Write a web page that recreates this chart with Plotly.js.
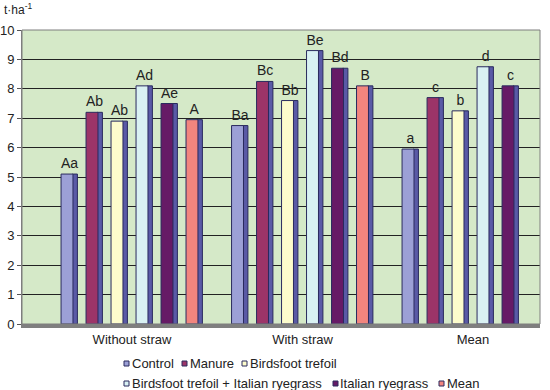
<!DOCTYPE html>
<html><head><meta charset="utf-8">
<script src="https://cdn.plot.ly/plotly-3.0.1.min.js"></script>
<style>html,body{margin:0;padding:0;background:#fff}#chart{width:550px;height:390px}</style>
</head><body><div id="chart"></div>
<script>
const categories = ["Without straw", "With straw", "Mean"];
const seriesNames = ["Control", "Manure", "Birdsfoot trefoil", "Birdsfoot trefoil + Italian ryegrass", "Italian ryegrass", "Mean"];
const control   = [5.1, 6.75, 5.95];
const manure    = [7.2, 8.25, 7.7];
const birdsfoot = [6.9, 7.6, 7.25];
const birdsIt   = [8.1, 9.3, 8.75];
const italian   = [7.5, 8.7, 8.1];
const meanVals  = [6.95, 8.1, null];
const labControl   = ["Aa", "Ba", "a"];
const labManure    = ["Ab", "Bc", "c"];
const labBirdsfoot = ["Ab", "Bb", "b"];
const labBirdsIt   = ["Ad", "Be", "d"];
const labItalian   = ["Ae", "Bd", "c"];
const labMean      = ["A", "B", ""];

const values = [control, manure, birdsfoot, birdsIt, italian, meanVals];
const labels = [labControl, labManure, labBirdsfoot, labBirdsIt, labItalian, labMean];
const colors = ["#9ca0d6", "#9c3468", "#fdfccc", "#d9f1f3", "#661a66", "#f2857e"];

// layout of the plot area (px) and legend entries (px)
const M = {l: 22, r: 10, t: 30, b: 66}, W = 550, H = 390;
const PW = W - M.l - M.r, PH = H - M.t - M.b;
const legendPx = [[124, 363], [182, 363], [242, 363], [124, 383], [333, 383], [439, 383]];
const px2x = p => (p - M.l) / PW;
const px2y = p => (H - M.b - p) / PH;

const pitch = 0.1466, fw = 0.07, sw = 0.03, start = -0.416;
const traces = [];
values.forEach((v, i) => {
  traces.push({
    type: "bar", x: categories, y: v, offset: start + i * pitch + fw - 0.004, width: sw,
    marker: {color: "#5a5aa6", line: {color: "#2a2a5e", width: 1}},
    hoverinfo: "skip"
  });
  traces.push({
    type: "bar", name: seriesNames[i], x: categories, y: v,
    offset: start + i * pitch, width: fw + sw,
    marker: {color: "rgba(0,0,0,0)", line: {width: 0}},
    text: labels[i], textposition: "outside", cliponaxis: false, constraintext: "none",
    textfont: {family: "Liberation Sans, Arial, sans-serif", size: 14, color: "#222"},
    hoverinfo: "skip"
  });
  traces.push({
    type: "bar", name: seriesNames[i], x: categories, y: v,
    offset: start + i * pitch, width: fw,
    marker: {color: colors[i], line: {color: "#2a2a5e", width: 1}}
  });
});

const shapes = [{type: "rect", xref: "paper", yref: "paper", x0: 0, x1: 1, y0: 0, y1: 1,
                 line: {color: "#7f7f7f", width: 1}}];
const annotations = [{text: "t·ha<sup>-1</sup>", xref: "paper", yref: "paper", x: px2x(2), y: px2y(19),
                      xanchor: "left", yanchor: "bottom", showarrow: false,
                      font: {size: 12, color: "#222"}}];
seriesNames.forEach((name, i) => {
  const [lx, ly] = legendPx[i];
  shapes.push({type: "rect", xref: "paper", yref: "paper",
               x0: px2x(lx), x1: px2x(lx + 5), y0: px2y(ly - 2), y1: px2y(ly + 3),
               fillcolor: colors[i], line: {color: "#2a2a5e", width: 1}});
  annotations.push({text: name, xref: "paper", yref: "paper", x: px2x(lx + 5.5), y: px2y(ly),
                    xanchor: "left", yanchor: "middle", showarrow: false,
                    font: {family: "Liberation Sans, Arial, sans-serif", size: 13, color: "#222"}});
});

const layout = {
  width: W, height: H,
  margin: Object.assign({autoexpand: false}, M),
  paper_bgcolor: "#ffffff", plot_bgcolor: "#d5e9c8",
  barmode: "overlay", showlegend: false,
  font: {family: "Liberation Sans, Arial, sans-serif", size: 13, color: "#222"},
  xaxis: {
    type: "category", range: [-0.645, 2.393],
    showgrid: false, zeroline: false, ticks: "",
    showline: true, linecolor: "#7f7f7f", linewidth: 4,
    tickfont: {size: 13, color: "#222"}
  },
  yaxis: {
    range: [0, 10], dtick: 1, tick0: 0,
    showgrid: true, gridcolor: "#222", gridwidth: 1,
    zeroline: false, ticks: "outside", ticklen: 4, tickcolor: "#555",
    showline: true, linecolor: "#7f7f7f", linewidth: 1,
    tickfont: {size: 13, color: "#222"}
  },
  shapes: shapes,
  annotations: annotations
};

Plotly.newPlot("chart", traces, layout, {staticPlot: true});
</script></body></html>
